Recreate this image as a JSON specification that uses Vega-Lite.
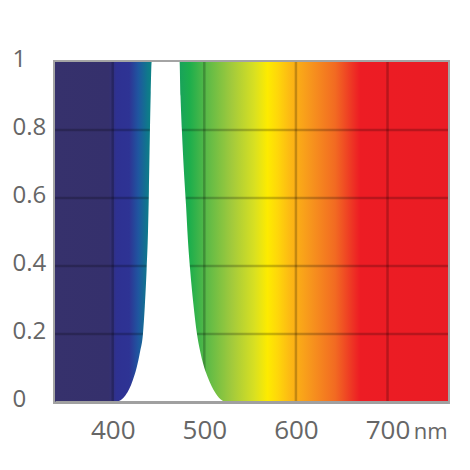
{
  "$schema": "https://vega.github.io/schema/vega-lite/v6.json",
  "width": 393,
  "height": 340,
  "autosize": {"type": "none"},
  "padding": {"left": 55, "top": 62, "right": 22, "bottom": 68},
  "background": "white",
  "view": {"stroke": "#a4a4a4", "strokeWidth": 4},
  "config": {
    "font": "Open Sans",
    "axis": {"labelFont": "Open Sans", "labelColor": "#666666", "labelFontSize": 24, "tickSize": 0, "ticks": false, "grid": false}
  },
  "layer": [
    {
      "data": {"values": [{"start": 337, "end": 766, "low": 0, "high": 1}]},
      "mark": {
        "type": "rect",
        "color": {
          "gradient": "linear",
          "x1": 0, "x2": 1, "y1": 0, "y2": 0,
          "stops": [
            {"offset": 0, "color": "#36316c"},
            {"offset": 0.1375, "color": "#35306c"},
            {"offset": 0.1562, "color": "#2e3192"},
            {"offset": 0.1888, "color": "#2e3394"},
            {"offset": 0.2121, "color": "#1f56a0"},
            {"offset": 0.2354, "color": "#0f788c"},
            {"offset": 0.247, "color": "#0b8383"},
            {"offset": 0.3427, "color": "#1dae4c"},
            {"offset": 0.3869, "color": "#5cba47"},
            {"offset": 0.4499, "color": "#a2ca3c"},
            {"offset": 0.5082, "color": "#d9e021"},
            {"offset": 0.5408, "color": "#fdeb00"},
            {"offset": 0.5664, "color": "#fed70a"},
            {"offset": 0.5991, "color": "#fcb814"},
            {"offset": 0.6527, "color": "#f7941d"},
            {"offset": 0.7133, "color": "#f26a22"},
            {"offset": 0.7506, "color": "#ee3b24"},
            {"offset": 0.7762, "color": "#ed1c24"},
            {"offset": 1, "color": "#ea1c24"}
          ]
        }
      },
      "encoding": {
        "x": {
          "field": "start", "type": "quantitative",
          "scale": {"domain": [337, 766], "nice": false, "zero": false},
          "axis": {
            "values": [400, 500, 600, 700],
            "labelBaseline": "alphabetic",
            "labelPadding": 36,
            "labelFontSize": 26,
            "domain": true,
            "domainColor": "#a0a0a0",
            "domainWidth": 3,
            "zindex": 2,
            "title": "nm",
            "titleFont": "Open Sans",
            "titleFontWeight": "normal",
            "titleFontSize": 22,
            "titleColor": "#666666",
            "titleAnchor": "end",
            "titleAlign": "right",
            "titleBaseline": "alphabetic",
            "titleX": 392,
            "titleY": 36
          }
        },
        "x2": {"field": "end"},
        "y": {
          "field": "low", "type": "quantitative",
          "scale": {"domain": [0, 1], "nice": false},
          "axis": {
            "values": [0, 0.2, 0.4, 0.6, 0.8, 1],
            "format": "~g",
            "labelAlign": "left",
            "labelPadding": 43,
            "labelOffset": -3,
            "domain": false,
            "title": null
          }
        },
        "y2": {"field": "high"}
      }
    },
    {
      "data": {"values": [{"nm": 400}, {"nm": 500}, {"nm": 600}, {"nm": 700}]},
      "mark": {"type": "rule", "color": "black", "opacity": 0.22, "strokeWidth": 2.5},
      "encoding": {
        "x": {"field": "nm", "type": "quantitative"}
      }
    },
    {
      "data": {"values": [{"t": 0.2}, {"t": 0.4}, {"t": 0.6}, {"t": 0.8}]},
      "mark": {"type": "rule", "color": "black", "opacity": 0.22, "strokeWidth": 2.5},
      "encoding": {
        "y": {"field": "t", "type": "quantitative"}
      }
    },
    {
      "data": {"values": [
        {"nm": 403, "T": 0},
        {"nm": 406, "T": 0.002},
        {"nm": 410, "T": 0.008},
        {"nm": 414, "T": 0.02},
        {"nm": 418, "T": 0.038},
        {"nm": 422, "T": 0.065},
        {"nm": 426, "T": 0.1},
        {"nm": 430, "T": 0.15},
        {"nm": 433, "T": 0.2},
        {"nm": 435, "T": 0.28},
        {"nm": 437, "T": 0.39},
        {"nm": 438.5, "T": 0.5},
        {"nm": 439.5, "T": 0.62},
        {"nm": 440.5, "T": 0.78},
        {"nm": 441.5, "T": 0.91},
        {"nm": 442.5, "T": 1},
        {"nm": 473, "T": 1},
        {"nm": 474, "T": 0.9},
        {"nm": 475.5, "T": 0.8},
        {"nm": 477.5, "T": 0.69},
        {"nm": 480, "T": 0.58},
        {"nm": 482, "T": 0.48},
        {"nm": 484.5, "T": 0.39},
        {"nm": 488, "T": 0.29},
        {"nm": 492, "T": 0.2},
        {"nm": 495, "T": 0.155},
        {"nm": 498, "T": 0.12},
        {"nm": 502, "T": 0.085},
        {"nm": 506, "T": 0.058},
        {"nm": 510, "T": 0.036},
        {"nm": 514, "T": 0.019},
        {"nm": 518, "T": 0.007},
        {"nm": 522, "T": 0}
      ]},
      "mark": {"type": "area", "color": "white", "opacity": 1, "interpolate": "monotone"},
      "encoding": {
        "x": {"field": "nm", "type": "quantitative"},
        "y": {"field": "T", "type": "quantitative"}
      }
    }
  ]
}
